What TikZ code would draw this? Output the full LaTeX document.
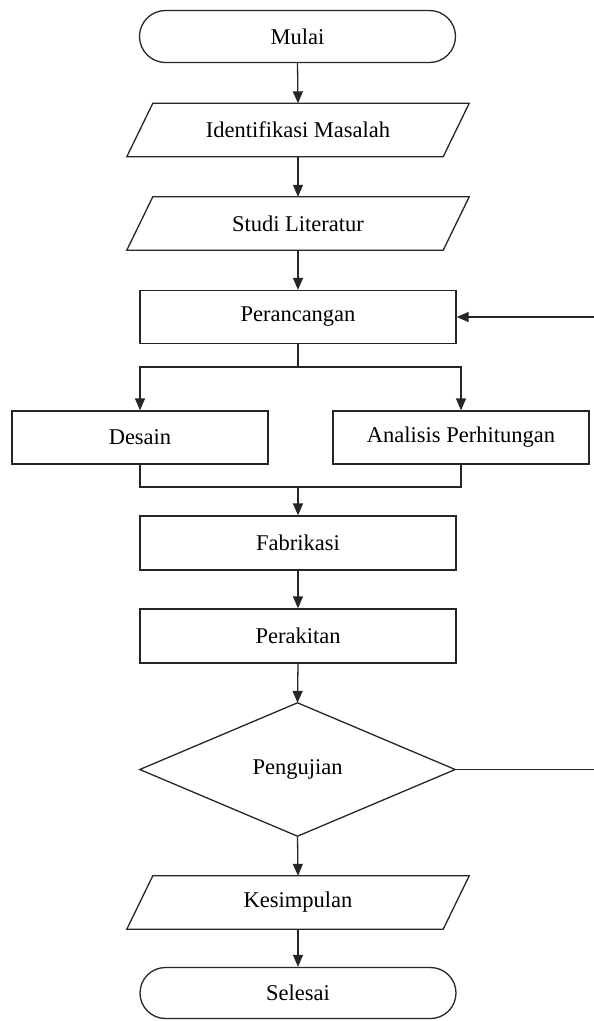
\documentclass[tikz,border=0pt]{standalone}
\usepackage{fontspec}
\setmainfont{Liberation Serif}
\usetikzlibrary{arrows.meta,shapes.misc,calc}
\begin{document}
\begin{tikzpicture}[x=1pt,y=-1pt,
  every node/.style={font=\fontsize{22.5}{26}\selectfont, inner sep=0pt},
  line/.style={line width=1.3pt, draw=black!85},
  arr/.style={line, -{Triangle[length=12pt,width=10pt]}},
  term/.style={rounded rectangle, draw=black!85, line width=1.3pt, minimum width=316pt, minimum height=52pt},
  procbox/.style={rectangle, draw=black!85, line width=1.3pt, minimum height=53pt},
  ghost/.style={rectangle, minimum width=316pt, minimum height=53pt}
]
\useasboundingbox (0,0) rectangle (594,1021);

\node[term] (mulai) at (297.5,36.5) {Mulai};
\node[ghost] (idm) at (298,130) {Identifikasi Masalah};
\node[ghost] (studi) at (298,223.5) {Studi Literatur};
\node[procbox, minimum width=316pt] (peran) at (298,317) {Perancangan};
\node[procbox, minimum width=256pt] (desain) at (140,437.5) {Desain};
\node[procbox, minimum width=256pt] (anal) at (461,437.5) {Analisis Perhitungan};
\node[procbox, minimum width=316pt, minimum height=54pt] (fab) at (298,543) {Fabrikasi};
\node[procbox, minimum width=316pt, minimum height=54pt] (rakit) at (298,636) {Perakitan};
\node[rectangle, minimum width=315pt, minimum height=133pt] (uji) at (297.5,769.5) {Pengujian};
\node[ghost] (kes) at (298,902.5) {Kesimpulan};
\node[term, minimum height=51pt] (sel) at (298,993) {Selesai};

% parallelograms
\foreach \n in {idm,studi,kes}{
  \draw[line] ($(\n.south west)+(-13,0)$) -- ($(\n.south east)+(-13,0)$)
     -- ($(\n.north east)+(13,0)$) -- ($(\n.north west)+(13,0)$) -- cycle;
}
% diamond
\draw[line] (uji.north) -- (uji.east) -- (uji.south) -- (uji.west) -- cycle;

\coordinate (split) at (298,367);
\coordinate (merge) at (298,487);
\coordinate (back) at (600,769.5);

\draw[arr] (mulai.south) -- (idm.north);
\draw[arr] (idm.south) -- (studi.north);
\draw[arr] (studi.south) -- (peran.north);
\draw[line] (peran.south) -- (split);
\draw[arr] (split) -| (desain.north);
\draw[arr] (split) -| (anal.north);
\draw[line] (desain.south) |- (merge);
\draw[line] (anal.south) |- (merge);
\draw[arr] (merge) -- (fab.north);
\draw[arr] (fab.south) -- (rakit.north);
\draw[arr] (rakit.south) -- (uji.north);
\draw[arr] (uji.south) -- (kes.north);
\draw[arr] (kes.south) -- (sel.north);
\draw[arr] (uji.east) -- (back) |- (peran.east);
\end{tikzpicture}
\end{document}
